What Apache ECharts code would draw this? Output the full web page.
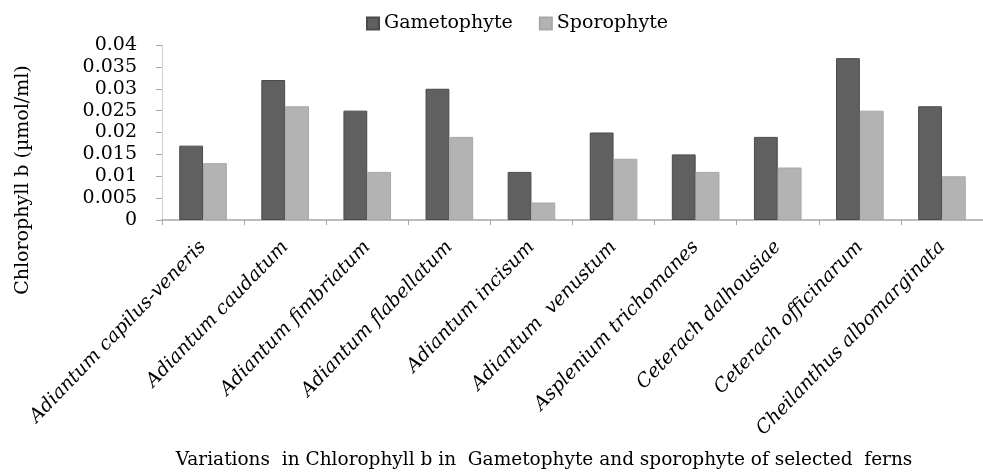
<!DOCTYPE html>
<html>
<head>
<meta charset="utf-8">
<script src="https://cdn.jsdelivr.net/npm/echarts@6/dist/echarts.min.js"></script>
<style>
html, body { margin: 0; padding: 0; background: #fff; }
#main { width: 983px; height: 473px; }
</style>
</head>
<body>
<div id="main"></div>
<script>
// ferns
var species = ['Adiantum capilus-veneris', 'Adiantum caudatum', 'Adiantum fimbriatum',
    'Adiantum flabellatum', 'Adiantum incisum', 'Adiantum  venustum',
    'Asplenium trichomanes', 'Ceterach dalhousiae', 'Ceterach officinarum',
    'Cheilanthus albomarginata'];
var gametophyte = [0.017, 0.032, 0.025, 0.030, 0.011, 0.020, 0.015, 0.019, 0.037, 0.026];
var sporophyte = [0.013, 0.026, 0.011, 0.019, 0.004, 0.014, 0.011, 0.012, 0.025, 0.010];
var yTicks = [0, 0.005, 0.01, 0.015, 0.02, 0.025, 0.03, 0.035, 0.04];

var serif = '"DejaVu Serif", "Liberation Serif", serif';

var myChart = echarts.init(document.getElementById('main'));
var option = {
    animation: false,
    textStyle: { fontFamily: serif, color: '#000' },
    legend: {
        top: 9,
        left: 361,
        itemWidth: 12,
        itemHeight: 12,
        itemGap: 26,
        icon: 'rect',
        textStyle: { fontFamily: serif, fontSize: 19, color: '#000' },
        data: ['Gametophyte', 'Sporophyte']
    },
    grid: {
        left: 162,
        top: 45,
        width: 833,
        bottom: 253
    },
    // axis titles sit off-centre in the original, so they are placed by hand
    graphic: [
        {
            type: 'text',
            x: 23,
            y: 180,
            rotation: Math.PI / 2,
            style: {
                text: 'Chlorophyll b (µmol/ml)',
                font: '19px ' + serif,
                fill: '#000',
                textAlign: 'center',
                textVerticalAlign: 'middle'
            }
        },
        {
            type: 'text',
            x: 544,
            y: 460,
            style: {
                text: 'Variations  in Chlorophyll b in  Gametophyte and sporophyte of selected  ferns',
                font: '18.5px ' + serif,
                fill: '#000',
                textAlign: 'center',
                textVerticalAlign: 'middle'
            }
        }
    ],
    xAxis: {
        type: 'category',
        data: species,
        axisLine: { lineStyle: { color: '#a6a6a6', width: 1.5 } },
        axisTick: { show: true, length: 5, lineStyle: { color: '#a6a6a6' } },
        axisLabel: {
            interval: 0,
            rotate: 46,
            margin: 24,
            fontFamily: serif,
            fontStyle: 'italic',
            fontSize: 19,
            color: '#000'
        }
    },
    yAxis: {
        type: 'value',
        min: yTicks[0],
        max: yTicks[yTicks.length - 1],
        interval: 0.005,
        axisLine: { show: true, lineStyle: { color: '#d0d0d0' } },
        axisTick: { show: true, length: 6, lineStyle: { color: '#a6a6a6' } },
        splitLine: { show: false },
        axisLabel: {
            margin: 25,
            fontFamily: serif,
            fontSize: 19,
            color: '#000',
            formatter: function (v) { return String(parseFloat(v.toFixed(3))); }
        }
    },
    series: [
        {
            name: 'Gametophyte',
            type: 'bar',
            data: gametophyte,
            barGap: '0%',
            barCategoryGap: '42%',
            itemStyle: { color: '#606060', borderColor: '#4a4a4a', borderWidth: 1 }
        },
        {
            name: 'Sporophyte',
            type: 'bar',
            data: sporophyte,
            itemStyle: { color: '#b3b3b3', borderColor: '#a8a8a8', borderWidth: 1 }
        }
    ]
};
myChart.setOption(option);
</script>
</body>
</html>
